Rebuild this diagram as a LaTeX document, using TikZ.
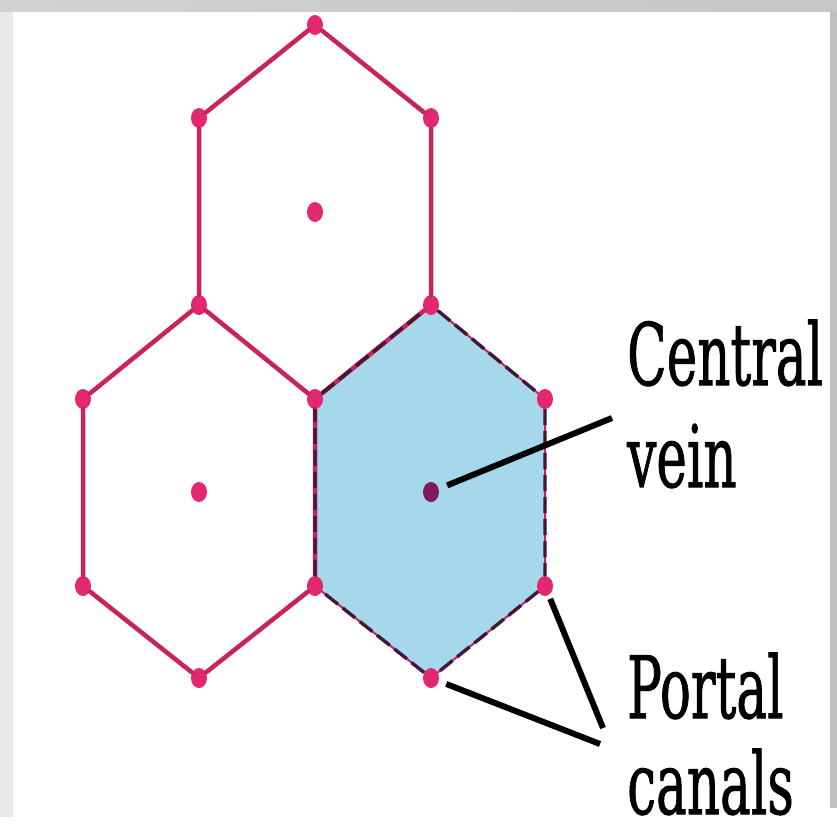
\documentclass[tikz,border=0pt]{standalone}
\usepackage{fontspec}
\usepackage{graphicx}
\usetikzlibrary{shapes.geometric,backgrounds}
\newfontfamily\lblfont{DejaVu Serif}[BoldFont={DejaVu Serif}, BoldFeatures={FakeBold=1.2}]
\newcommand\squeeze[1]{\scalebox{0.6}[1]{#1}}
\definecolor{edgepink}{RGB}{200,35,92}
\definecolor{dotpink}{RGB}{228,40,112}
\definecolor{veinpurple}{RGB}{130,25,90}
\definecolor{lobuleblue}{RGB}{166,216,236}
\definecolor{rimdark}{RGB}{70,22,55}

\begin{document}
\begin{tikzpicture}[x=1pt, y=-1pt,
  dot/.style={ellipse, fill=dotpink, minimum width=16pt, minimum height=20pt, inner sep=0pt},
  edge/.style={edgepink, line width=4.5pt, line cap=round},
  rim/.style={rimdark, line width=3.4pt, dash pattern=on 16pt off 6pt},
  leader/.style={black, line width=6pt},
  lbl/.style={anchor=base west, inner sep=0pt, font=\lblfont\bfseries\fontsize{86}{100}\selectfont}
]
\useasboundingbox (0,0) rectangle (837,833);

% hexagon corners
\node[dot] (a) at (315,25) {};
\node[dot] (b) at (199,118) {};
\node[dot] (c) at (431,118) {};
\node[dot] (d) at (199,305) {};
\node[dot] (e) at (431,305) {};
\node[dot] (f) at (315,399) {};
\node[dot] (g) at (83,399) {};
\node[dot] (h) at (545,399) {};
\node[dot] (i) at (83,586) {};
\node[dot] (j) at (315,586) {};
\node[dot] (k) at (545,586) {};
\node[dot] (l) at (199,678) {};
\node[dot] (m) at (431,678) {};
% central veins
\node[dot] (tv) at (315,212) {};
\node[dot] (lv) at (199,492) {};
\node[dot, fill=veinpurple] (cv) at (431,492) {};

\begin{scope}[on background layer]
  \fill[gray!18] (0,0) rectangle (13,817);
  \shade[left color=gray!35, right color=gray!45] (0,0) rectangle (837,11);
  \fill[gray!50] (830,11) rectangle (837,808);
  \fill[lobuleblue] (e.center) -- (h.center) -- (k.center) -- (m.center) -- (j.center) -- (f.center) -- cycle;
\end{scope}

% lobule outlines
\draw[edge] (a) -- (b) -- (d) -- (f) -- (e) -- (c) -- (a);
\draw[edge] (d) -- (g) -- (i) -- (l) -- (j) -- (f);
\draw[edge, line width=2pt] (e) -- (h) -- (k) -- (m) -- (j);
\draw[rim] (e) -- (h) -- (k) -- (m) -- (j) -- (f) -- (e);

% labels
\node[lbl] (central) at (627,385) {\squeeze{Central}};
\node[lbl] (vein) at (627,487) {\squeeze{vein}};
\node[lbl] (portal) at (627,718) {\squeeze{Portal}};
\node[lbl] (canals) at (627,814) {\squeeze{canals}};

\coordinate (cvtip) at (612,418);
\coordinate (pctip1) at (603,728);
\coordinate (pctip2) at (600,744);
\draw[leader, shorten <=9pt] (cv) -- (cvtip);
\draw[leader, shorten <=4pt] (k) -- (pctip1);
\draw[leader, shorten <=8pt] (m) -- (pctip2);
\end{tikzpicture}
\end{document}
